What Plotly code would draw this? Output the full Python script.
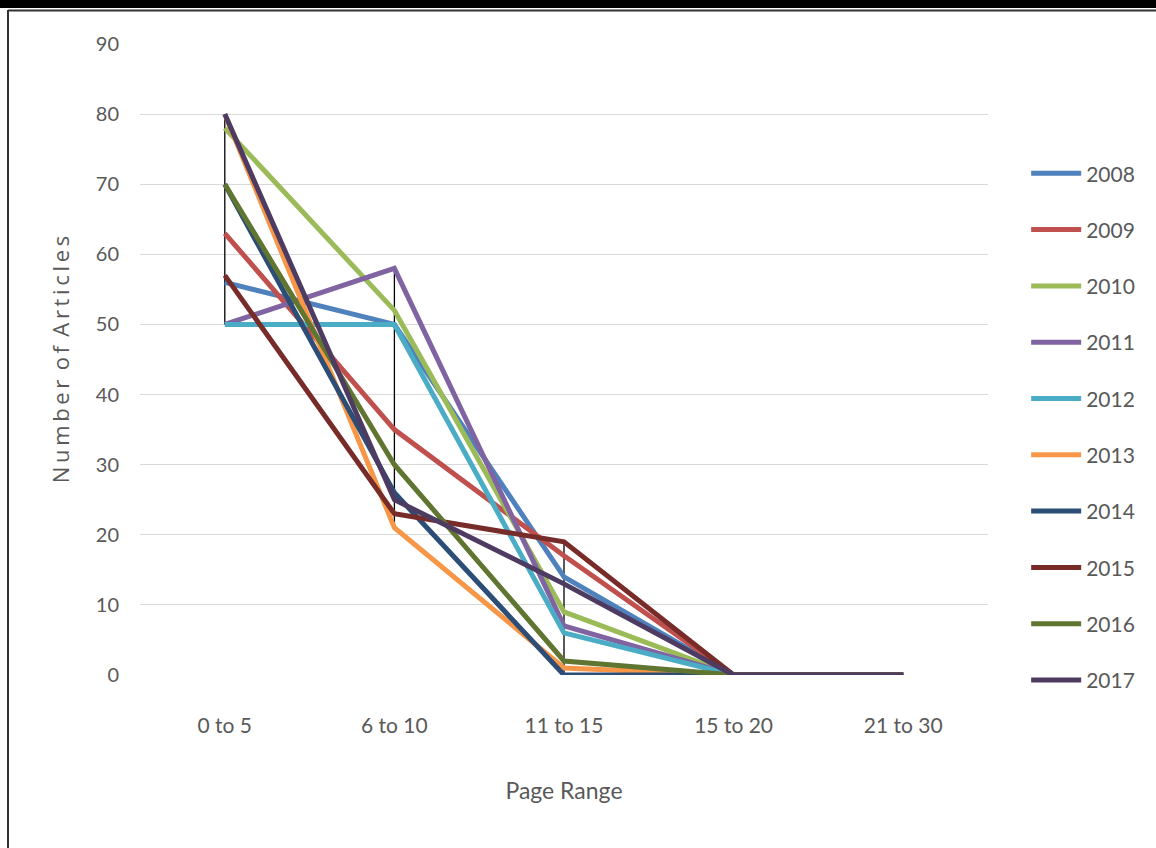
import plotly.graph_objects as go

categories = ["0 to 5", "6 to 10", "11 to 15", "15 to 20", "21 to 30"]
years = ["2008", "2009", "2010", "2011", "2012", "2013", "2014", "2015", "2016", "2017"]

v2008 = [56, 50, 14, 0, 0]
v2009 = [63, 35, 17, 0, 0]
v2010 = [78, 52, 9, 0, 0]
v2011 = [50, 58, 7, 0, 0]
v2012 = [50, 50, 6, 0, 0]
v2013 = [80, 21, 1, 0, 0]
v2014 = [70, 26, 0, 0, 0]
v2015 = [57, 23, 19, 0, 0]
v2016 = [70, 30, 2, 0, 0]
v2017 = [80, 25, 13, 0, 0]

series = [v2008, v2009, v2010, v2011, v2012, v2013, v2014, v2015, v2016, v2017]
colors = ["#4F81BD", "#C0504D", "#9BBB59", "#8064A2", "#4BACC6",
          "#F79646", "#2C4D75", "#772C2A", "#5F7530", "#4D3B62"]

FONT = "Lato, Open Sans, sans-serif"
GRAY = "#595959"

fig = go.Figure()

# high-low lines
hx, hy = [], []
for i, c in enumerate(categories):
    vals = [s[i] for s in series]
    hx += [c, c, None]
    hy += [max(vals), min(vals), None]
fig.add_trace(go.Scatter(x=hx, y=hy, mode="lines", line=dict(color="#000000", width=1.3),
                         showlegend=False, hoverinfo="skip"))

for y, vals, col in zip(years, series, colors):
    fig.add_trace(go.Scatter(x=categories, y=vals, mode="lines", name=y,
                             legendgroup=y,
                             line=dict(color=col, width=5)))

W, H = 1156, 848
L, R, T, B = 140, 168, 44, 173
pw, ph = W - L - R, H - T - B


def px(x):
    return (x - L) / pw


def py(y):
    return (H - B - y) / ph


shapes = [
    dict(type="rect", xref="paper", yref="paper", x0=px(0), x1=px(W), y0=py(0), y1=py(8),
         fillcolor="#000000", line=dict(width=0)),
    dict(type="line", xref="paper", yref="paper", x0=px(8), x1=px(W), y0=py(10.5), y1=py(10.5),
         line=dict(color="#333333", width=2)),
    dict(type="line", xref="paper", yref="paper", x0=px(8), x1=px(8), y0=py(10), y1=py(H),
         line=dict(color="#333333", width=2)),
]

ytitle = "\u2009".join(list("Number")) + " \u2009" + "\u2009".join(list("of")) + " \u2009" + "\u2009".join(list("Articles"))

fig.update_layout(
    width=W, height=H,
    margin=dict(l=L, r=R, t=T, b=B, pad=0),
    paper_bgcolor="white", plot_bgcolor="white",
    font=dict(family=FONT, color=GRAY, size=20),
    shapes=shapes,
    legend=dict(x=1.045, y=0.827, xanchor="left", yanchor="top",
                font=dict(size=21, color=GRAY, family=FONT),
                tracegroupgap=26, itemwidth=50, bgcolor="rgba(0,0,0,0)"),
    xaxis=dict(type="category", range=[-0.5, 4.5], showgrid=False, zeroline=False,
               showline=False, ticks="", ticklabelstandoff=36,
               tickfont=dict(size=21, color=GRAY, family=FONT),
               title=dict(text="Page Range", font=dict(size=23, color=GRAY, family=FONT), standoff=46)),
    yaxis=dict(range=[0, 90], dtick=10, showgrid=True, gridcolor="#D9D9D9", gridwidth=1.3,
               zeroline=False, showline=False, ticks="", ticklabelstandoff=20,
               tickfont=dict(size=20, color=GRAY, family=FONT),
               title=dict(text=ytitle,
                          font=dict(size=22, color=GRAY, family="Open Sans, sans-serif"), standoff=20)),
)

fig.write_html("out.html", config={"displayModeBar": False},
               post_script="document.body.style.margin='0';document.body.style.overflow='hidden';")
